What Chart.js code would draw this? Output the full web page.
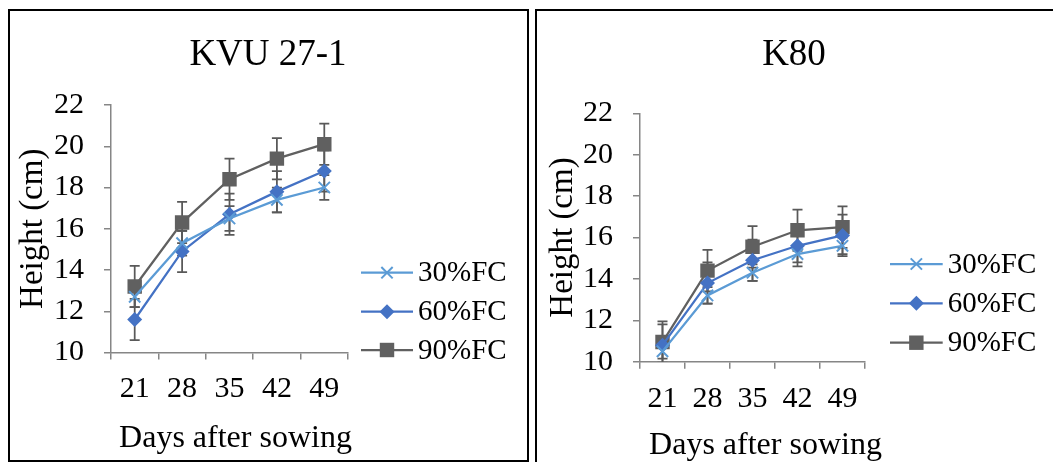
<!DOCTYPE html>
<html><head><meta charset="utf-8">
<script src="https://cdn.jsdelivr.net/npm/chart.js@4.4.0/dist/chart.umd.min.js"></script>
<style>
html,body{margin:0;padding:0;background:#fff;width:1053px;height:462px;overflow:hidden;position:relative}
.panel{position:absolute;box-sizing:border-box;border:2px solid #000;}
#p1{left:8px;top:9px;width:521px;height:453px;}
#p2{left:535px;top:9px;width:530px;height:470px;}
canvas{position:absolute;top:0}
#c1{left:0}
#c2{left:531px}
</style></head><body>
<div class="panel" id="p1"></div><div class="panel" id="p2"></div>
<canvas id="c1" width="531" height="462"></canvas>
<canvas id="c2" width="522" height="462"></canvas>
<script>
// ---- data ----
const days = ['21', '28', '35', '42', '49'];
const seriesNames = ['30%FC', '60%FC', '90%FC'];
const yTicks = [10, 12, 14, 16, 18, 20, 22];
const xAxisTitle = 'Days after sowing';
const yAxisTitle = 'Height (cm)';

// KVU 27-1
const kvu30 = [12.7, 15.3, 16.5, 17.4, 18.0];
const kvu60 = [11.6, 14.9, 16.7, 17.8, 18.8];
const kvu90 = [13.2, 16.3, 18.4, 19.4, 20.1];
const kvu30Err = [0.5, 0.6, 0.6, 0.6, 0.6];
const kvu60Err = [1.0, 1.0, 1.0, 1.0, 1.0];
const kvu90Err = [1.0, 1.0, 1.0, 1.0, 1.0];

// K80
const k80_30 = [10.5, 13.2, 14.3, 15.2, 15.6];
const k80_60 = [10.8, 13.8, 14.9, 15.6, 16.1];
const k80_90 = [10.95, 14.4, 15.55, 16.35, 16.5];
const k80_30Err = [0.35, 0.4, 0.4, 0.4, 0.4];
const k80_60Err = [1.0, 1.0, 1.0, 1.0, 1.0];
const k80_90Err = [1.0, 1.0, 1.0, 1.0, 1.0];

// ---- styles ----
const FONT = '"Liberation Serif", "Times New Roman", serif';
const AX = '#868686';
const ERR = '#595959';
const styles = [
  {color: '#5B9BD5', pointStyle: 'crossRot', radius: 8, borderWidth: 2},
  {color: '#4472C4', pointStyle: 'rectRot', radius: 7.5, borderWidth: 0},
  {color: '#606060', pointStyle: 'rect', radius: 10.2, borderWidth: 0}
];

function makeChart(canvasId, cfg) {
  const datasets = cfg.values.map((vals, i) => ({
    label: seriesNames[i],
    data: vals,
    errors: cfg.errors[i],
    borderColor: styles[i].color,
    backgroundColor: styles[i].color,
    borderWidth: 2.25,
    pointStyle: styles[i].pointStyle,
    pointRadius: styles[i].radius,
    pointBorderWidth: styles[i].borderWidth,
    pointBackgroundColor: styles[i].color,
    pointBorderColor: styles[i].color,
    tension: 0,
    fill: false
  }));

  const errorBars = {
    id: 'errorBars',
    beforeDatasetsDraw(chart) {
      const ctx = chart.ctx, y = chart.scales.y, ca = chart.chartArea;
      ctx.save();
      ctx.beginPath();
      ctx.rect(ca.left, ca.top - 20, ca.right - ca.left, ca.bottom - ca.top + 20);
      ctx.clip();
      ctx.strokeStyle = ERR;
      ctx.lineWidth = 1.75;
      chart.data.datasets.forEach((ds, di) => {
        const meta = chart.getDatasetMeta(di);
        meta.data.forEach((pt, j) => {
          const v = ds.data[j], e = ds.errors[j];
          const yt = y.getPixelForValue(v + e), yb = y.getPixelForValue(v - e);
          const x = pt.x;
          ctx.beginPath();
          ctx.moveTo(x, yt); ctx.lineTo(x, yb);
          ctx.moveTo(x - 5, yt); ctx.lineTo(x + 5, yt);
          ctx.moveTo(x - 5, yb); ctx.lineTo(x + 5, yb);
          ctx.stroke();
        });
      });
      ctx.restore();
    }
  };

  const decor = {
    id: 'decor',
    afterDraw(chart) {
      const ctx = chart.ctx;
      ctx.save();
      ctx.fillStyle = '#000';
      // chart title
      ctx.font = '37px ' + FONT;
      ctx.textAlign = 'center';
      ctx.textBaseline = 'alphabetic';
      ctx.fillText(cfg.title, cfg.titleX, 65);
      // x-axis title
      ctx.font = '32px ' + FONT;
      ctx.fillText(xAxisTitle, cfg.xTitleX, cfg.xTitleY);
      // legend
      chart.data.datasets.forEach((ds, i) => {
        const yy = cfg.legendY[i];
        ctx.strokeStyle = ds.borderColor;
        ctx.lineWidth = 2.25;
        ctx.beginPath();
        ctx.moveTo(cfg.legendX1, yy); ctx.lineTo(cfg.legendX2, yy);
        ctx.stroke();
        ctx.fillStyle = ds.pointBackgroundColor;
        ctx.strokeStyle = ds.pointBorderColor;
        ctx.lineWidth = ds.pointBorderWidth;
        Chart.helpers.drawPoint(ctx, {pointStyle: ds.pointStyle, radius: ds.pointRadius, borderWidth: ds.pointBorderWidth, rotation: 0}, (cfg.legendX1 + cfg.legendX2) / 2, yy);
        ctx.fillStyle = '#000';
        ctx.font = '29px ' + FONT;
        ctx.textAlign = 'left';
        ctx.textBaseline = 'middle';
        ctx.fillText(ds.label, cfg.legendX2 + 5, yy + 1);
      });
      ctx.restore();
    }
  };

  return new Chart(document.getElementById(canvasId), {
    type: 'line',
    data: {labels: days, datasets},
    plugins: [errorBars, decor],
    options: {
      responsive: false,
      animation: false,
      devicePixelRatio: 1,
      layout: {padding: {left: 0, top: cfg.top, right: cfg.right, bottom: 0}},
      plugins: {legend: {display: false}, tooltip: {enabled: false}, title: {display: false}},
      scales: {
        x: {
          type: 'category',
          offset: true,
          grid: {offset: true, drawOnChartArea: false, drawTicks: true, tickLength: 7, color: AX, lineWidth: 1.5},
          border: {color: AX, width: 1.5},
          ticks: {font: {family: FONT, size: 30}, color: '#000', padding: 12, maxRotation: 0, autoSkip: false},
          title: {display: false},
          afterFit(s) { s.height = cfg.xHeight; }
        },
        y: {
          min: 10, max: 22,
          afterBuildTicks(s) { s.ticks = yTicks.map(v => ({value: v})); },
          grid: {drawOnChartArea: false, drawTicks: true, tickLength: 7, color: AX, lineWidth: 1.5},
          border: {color: AX, width: 1.5},
          ticks: {font: {family: FONT, size: 30}, color: '#000', padding: 20},
          title: {display: true, text: yAxisTitle, font: {family: FONT, size: 33}, color: '#000', padding: {top: cfg.yTitlePad, bottom: 0}},
          afterFit(s) { s.width = cfg.yWidth; }
        }
      }
    }
  });
}

makeChart('c1', {
  title: 'KVU 27-1', titleX: 268,
  values: [kvu30, kvu60, kvu90], errors: [kvu30Err, kvu60Err, kvu90Err],
  top: 105, right: 183, yWidth: 111, xHeight: 109.5, yTitlePad: 14,
  xTitleX: 235.5, xTitleY: 446.5,
  legendX1: 361, legendX2: 413, legendY: [272.7, 311.7, 350]
});
makeChart('c2', {
  title: 'K80', titleX: 263,
  values: [k80_30, k80_60, k80_90], errors: [k80_30Err, k80_60Err, k80_90Err],
  top: 113.3, right: 188, yWidth: 109, xHeight: 100.3, yTitlePad: 13,
  xTitleX: 234.5, xTitleY: 454,
  legendX1: 359, legendX2: 411.7, legendY: [264, 303.3, 342.7]
});
</script>
</body></html>
